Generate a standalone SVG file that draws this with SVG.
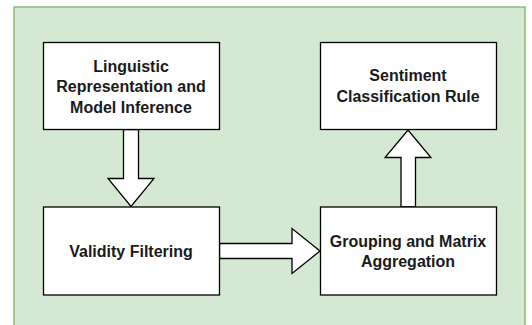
<svg xmlns="http://www.w3.org/2000/svg" width="532" height="325" viewBox="0 0 532 325">
<style>
.box{fill:#ffffff;stroke:#000000;stroke-width:1.3}
.arr{fill:#ffffff;stroke:#000000;stroke-width:1.3;stroke-linejoin:miter}
.t{font-family:"Liberation Sans",Arial,sans-serif;font-weight:bold;font-size:16px;fill:#1a1a1a;text-anchor:middle}
</style>
<rect x="14" y="7" width="511" height="330" fill="#d5e8d4" stroke="#82b366" stroke-width="1.3"/>
<g id="connectors">
<polygon class="arr" points="123.5,129.5 138.5,129.5 138.5,178.5 154,178.5 131,206.5 108,178.5 123.5,178.5"/>
<polygon class="arr" points="219.5,243.5 292,243.5 292,228.5 320,251 292,273.5 292,258.5 219.5,258.5"/>
<polygon class="arr" points="401,207 415.5,207 415.5,157.5 431,157.5 408,130 385,157.5 401,157.5"/>
</g>
<g id="n1">
<rect class="box" x="43.5" y="42.5" width="176" height="87"/>
<text class="t" x="131" y="72">Linguistic</text>
<text class="t" x="131" y="92">Representation and</text>
<text class="t" x="131" y="113">Model Inference</text>
</g>
<g id="n2">
<rect class="box" x="320.5" y="42.5" width="176" height="87"/>
<text class="t" x="408" y="81">Sentiment</text>
<text class="t" x="408" y="102">Classification Rule</text>
</g>
<g id="n3">
<rect class="box" x="43.5" y="207" width="176" height="88"/>
<text class="t" x="131" y="256.5">Validity Filtering</text>
</g>
<g id="n4">
<rect class="box" x="320.5" y="207" width="176" height="88"/>
<text class="t" x="408" y="246.5">Grouping and Matrix</text>
<text class="t" x="408" y="267">Aggregation</text>
</g>
</svg>
